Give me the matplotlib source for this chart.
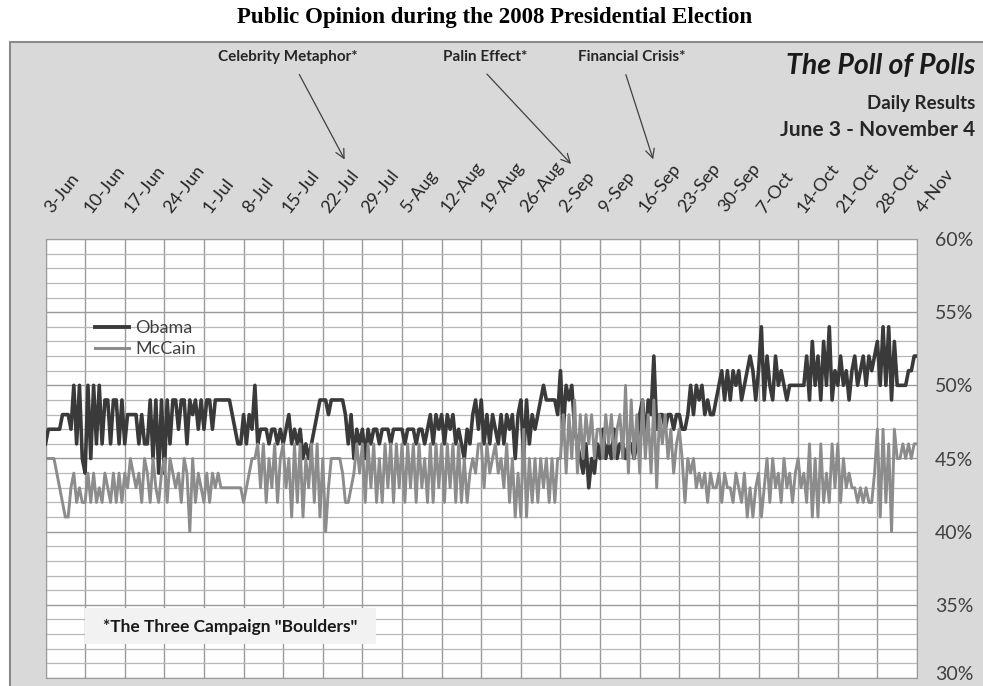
import numpy as np
import matplotlib.pyplot as plt
from matplotlib.patches import Rectangle, FancyArrowPatch
from matplotlib.lines import Line2D
from matplotlib.transforms import ScaledTranslation

W, H = 983, 686

# weekly tick labels (top axis)
week_labels = ['3-Jun', '10-Jun', '17-Jun', '24-Jun', '1-Jul', '8-Jul', '15-Jul',
               '22-Jul', '29-Jul', '5-Aug', '12-Aug', '19-Aug', '26-Aug', '2-Sep',
               '9-Sep', '16-Sep', '23-Sep', '30-Sep', '7-Oct', '14-Oct', '21-Oct',
               '28-Oct', '4-Nov']

# poll readings, two per day (percent)
# Jun 3 - Jun 30
obama_jun = [46, 47, 47, 47, 47, 47, 48, 48, 48, 47, 50, 46, 50, 45,
             44, 50, 45, 50, 46, 50, 46, 49, 49, 46, 49, 49, 46, 49,
             46, 48, 48, 48, 48, 46, 48, 46, 46, 49, 45, 49, 44, 49,
             44, 49, 46, 49, 49, 47, 49, 49, 46, 49, 48, 49, 47, 49]
# Jul 1 - Aug 4
obama_jul = [47, 49, 49, 47, 49, 49, 49, 49, 49, 49, 48, 47, 46, 46,
             48, 46, 48, 47, 50, 46, 47, 47, 47, 46, 47, 47, 46, 47,
             46, 47, 48, 46, 47, 46, 47, 45, 46, 45, 46, 47, 48, 49,
             49, 49, 48, 49, 49, 49, 49, 49, 48, 46, 48, 45, 47, 46,
             47, 45, 47, 46, 47, 47, 46, 47, 47, 47, 46, 47, 47, 47]
# Aug 5 - Sep 1
obama_aug = [47, 46, 47, 47, 47, 46, 47, 47, 46, 47, 48, 46, 48, 47,
             48, 46, 48, 47, 48, 46, 47, 46, 45, 47, 46, 48, 49, 47,
             49, 46, 48, 46, 48, 47, 46, 48, 46, 48, 47, 48, 45, 48,
             49, 45, 49, 46, 48, 47, 48, 49, 50, 49, 49, 49, 49, 48]
# Sep 2 - Oct 6
obama_sep = [51, 47, 50, 49, 50, 47, 46, 45, 44, 46, 43, 45, 44, 46,
             45, 47, 45, 46, 45, 47, 45, 46, 46, 45, 46, 46, 45, 46,
             48, 49, 46, 49, 48, 52, 47, 48, 48, 47, 48, 48, 47, 48,
             48, 47, 47, 48, 50, 48, 50, 49, 50, 48, 49, 48, 48, 49,
             50, 51, 49, 51, 49, 51, 50, 51, 49, 50, 51, 52, 51, 49]
# Oct 7 - Nov 4
obama_oct = [51, 54, 49, 52, 50, 49, 52, 50, 51, 50, 49, 50, 50, 50,
             50, 50, 50, 52, 49, 53, 50, 52, 49, 53, 50, 54, 49, 51,
             50, 52, 50, 51, 49, 51, 52, 50, 51, 52, 50, 52, 51, 52,
             53, 50, 54, 50, 54, 49, 53, 50, 50, 50, 50, 51, 51, 52,
             52]

mccain_jun = [45, 45, 45, 45, 44, 43, 42, 41, 41, 43, 44, 42, 43, 42,
              42, 44, 42, 44, 42, 43, 42, 44, 43, 42, 44, 42, 44, 42,
              44, 43, 45, 44, 43, 44, 42, 45, 44, 42, 45, 43, 42, 44,
              45, 42, 45, 44, 43, 44, 42, 45, 44, 40, 45, 42, 44, 43]
mccain_jul = [42, 44, 42, 44, 43, 44, 43, 43, 43, 43, 43, 43, 43, 43,
              42, 43, 44, 45, 45, 46, 43, 46, 42, 45, 43, 46, 42, 45,
              46, 43, 45, 41, 46, 42, 46, 41, 45, 43, 46, 42, 46, 41,
              45, 40, 43, 45, 45, 45, 45, 44, 42, 42, 43, 44, 46, 44,
              46, 42, 46, 43, 46, 42, 45, 42, 46, 43, 46, 42, 46, 43]
mccain_aug = [46, 42, 46, 43, 46, 42, 46, 43, 45, 42, 46, 42, 46, 43,
              46, 42, 46, 43, 46, 42, 46, 42, 45, 42, 44, 45, 44, 46,
              46, 43, 46, 44, 45, 46, 44, 45, 43, 46, 42, 45, 41, 44,
              41, 47, 41, 45, 42, 45, 42, 45, 43, 45, 42, 45, 42, 45]
mccain_sep = [45, 48, 44, 48, 45, 49, 44, 48, 45, 48, 46, 48, 45, 47,
              47, 45, 48, 46, 48, 45, 47, 48, 45, 50, 44, 49, 45, 48,
              44, 49, 45, 48, 44, 49, 43, 48, 46, 48, 45, 47, 44, 46,
              47, 45, 42, 45, 44, 45, 43, 44, 43, 44, 42, 44, 43, 43,
              44, 42, 44, 43, 43, 42, 44, 43, 42, 44, 41, 43, 41, 43]
mccain_oct = [44, 41, 43, 45, 42, 45, 43, 44, 42, 45, 43, 44, 42, 44,
              45, 43, 44, 42, 46, 41, 45, 41, 46, 42, 44, 42, 46, 43,
              46, 42, 45, 43, 44, 43, 43, 42, 43, 42, 43, 42, 42, 44,
              47, 41, 47, 42, 46, 40, 47, 45, 45, 46, 45, 46, 45, 46,
              46]

obama = np.array(obama_jun + obama_jul + obama_aug + obama_sep + obama_oct)
mccain = np.array(mccain_jun + mccain_jul + mccain_aug + mccain_sep + mccain_oct)
days = np.arange(len(obama)) / 2.0   # days after 3-Jun

ui = 'Lato'


def fx(px):
    return px / W


def fy(py):
    return 1 - py / H


fig = plt.figure(figsize=(W / 100, H / 100), dpi=100)
fig.patch.set_facecolor('white')

# grey chart area
fig.add_artist(Rectangle((fx(10), -0.1), 1.2, fy(42) + 0.1, transform=fig.transFigure,
                         facecolor='#d9d9d9', edgecolor='#8a8a8a', lw=1.5, zorder=-1))

fig.text(fx(495), fy(18), 'Public Opinion during the 2008 Presidential Election',
         ha='center', va='center', fontsize=16.5, fontweight='bold',
         family='Liberation Serif', color='black')

ax = fig.add_axes([fx(45.5), fy(678), fx(917) - fx(45.5), fy(239) - fy(678)])
ax.set_facecolor('white')
ax.plot(days, obama, color='#3a3a3a', lw=2.6, solid_joinstyle='round', zorder=3)
ax.plot(days, mccain, color='#8c8c8c', lw=2.1, solid_joinstyle='round', zorder=4)

week_pos = np.arange(len(week_labels)) * 7
ax.set_xlim(week_pos[0], week_pos[-1])
ax.set_ylim(30, 60)
ax.xaxis.tick_top()
ax.tick_params(axis='x', length=0, pad=17, labelsize=13, labelcolor='#262626')
ax.set_xticks(week_pos)
ax.set_xticklabels(week_labels, rotation=52, ha='left', va='bottom',
                   rotation_mode='anchor', family=ui)
shift = ScaledTranslation(0.09, 0, fig.dpi_scale_trans)
for t in ax.get_xticklabels():
    t.set_transform(t.get_transform() + shift)

ax.yaxis.tick_right()
ax.tick_params(axis='y', which='both', length=0, pad=13, labelsize=14, labelcolor='#404040')
ax.set_yticks(np.arange(30, 61, 5))
ax.set_yticklabels([f'{v}%' for v in range(30, 61, 5)], family=ui)
ax.set_yticks(np.arange(30, 61, 1), minor=True)
# keep the bottom label inside the picture
lift = ScaledTranslation(0, 0.05, fig.dpi_scale_trans)
bottom_lbl = ax.get_yticklabels()[0]
bottom_lbl.set_transform(bottom_lbl.get_transform() + lift)

ax.grid(True, which='major', axis='both', color='#9a9a9a', lw=1.0, zorder=1)
ax.grid(True, which='minor', axis='y', color='#b8b8b8', lw=0.9, zorder=1)
ax.set_axisbelow(True)
for s in ax.spines.values():
    s.set_color('#9a9a9a')

# legend
handles = [Line2D([], [], color='#3a3a3a', lw=2.8), Line2D([], [], color='#8c8c8c', lw=2.2)]
ax.legend(handles, ['Obama', 'McCain'], loc='upper left',
          bbox_to_anchor=(fx(91) - fx(45.5), 1 - (311 - 239) / (678 - 239)),
          bbox_transform=ax.transAxes, frameon=False, handlelength=1.9,
          handletextpad=0.35, labelspacing=0.3, borderpad=0,
          prop={'family': ui, 'size': 13}, labelcolor='#404040')

# campaign "boulders"
notes = [('Celebrity Metaphor*', 288, (298, 72), (346, 162)),
         ('Palin Effect*', 485, (485, 72), (573, 166)),
         ('Financial Crisis*', 632, (625, 72), (654, 162))]
for label, cx, start, end in notes:
    fig.text(fx(cx), fy(57), label, ha='center', va='center', fontsize=11,
             fontweight='bold', family=ui, color='#262626')
    fig.add_artist(FancyArrowPatch((fx(start[0]), fy(start[1])), (fx(end[0]), fy(end[1])),
                                   transform=fig.transFigure, arrowstyle='->',
                                   mutation_scale=16, color='#404040', lw=0.9))

fig.text(fx(975), fy(66), 'The Poll of Polls', ha='right', va='center', fontsize=20.5,
         fontweight='bold', style='italic', family=ui, color='#1a1a1a')
fig.text(fx(975), fy(103), 'Daily Results', ha='right', va='center', fontsize=13.5,
         fontweight='bold', family=ui, color='#262626')
fig.text(fx(975), fy(130), 'June 3 - November 4', ha='right', va='center', fontsize=15,
         fontweight='bold', family=ui, color='#262626')

fig.add_artist(Rectangle((fx(85), fy(644)), fx(376) - fx(85), fy(608) - fy(644),
                         transform=fig.transFigure, facecolor='#f2f2f2',
                         edgecolor='none', zorder=5))
fig.text(fx(103), fy(627), '*The Three Campaign "Boulders"', ha='left', va='center',
         fontsize=12.5, fontweight='bold', family=ui, color='#1a1a1a', zorder=6)

fig.savefig('out.png', dpi=100)
